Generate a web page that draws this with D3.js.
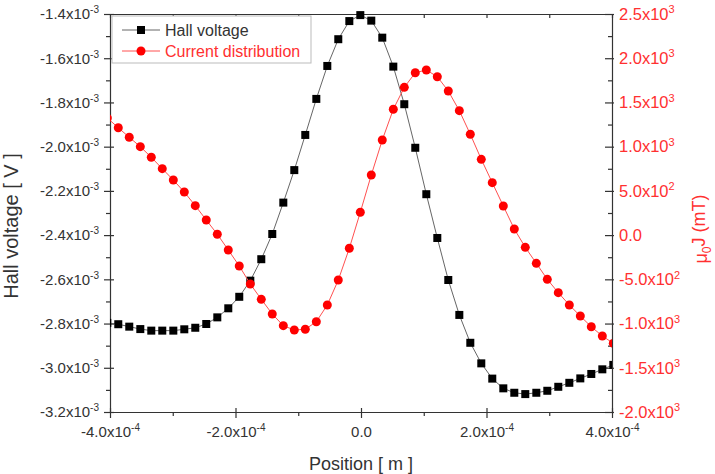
<!DOCTYPE html>
<html>
<head>
<meta charset="utf-8">
<script src="https://cdn.jsdelivr.net/npm/d3@7"></script>
<style>
  body { margin: 0; background: #fff; }
  svg { font-family: "Liberation Sans", Arial, sans-serif; }
</style>
</head>
<body>
<svg id="chart" width="715" height="474"></svg>
<script>
// Position along the sample [m]
const positions = [
  -4.043e-4, -3.868e-4, -3.693e-4, -3.517e-4, -3.342e-4, -3.167e-4, -2.991e-4, -2.816e-4,
  -2.641e-4, -2.466e-4, -2.290e-4, -2.115e-4, -1.940e-4, -1.764e-4, -1.589e-4, -1.414e-4,
  -1.238e-4, -1.063e-4, -0.888e-4, -0.712e-4, -0.537e-4, -0.362e-4, -0.186e-4, -0.011e-4,
  0.164e-4, 0.339e-4, 0.515e-4, 0.690e-4, 0.865e-4, 1.041e-4, 1.216e-4, 1.391e-4,
  1.567e-4, 1.742e-4, 1.917e-4, 2.092e-4, 2.268e-4, 2.443e-4, 2.618e-4, 2.794e-4,
  2.969e-4, 3.144e-4, 3.320e-4, 3.495e-4, 3.670e-4, 3.846e-4, 4.021e-4
];

// Hall voltage [V]
const hallVoltage = [
  -2.797e-3, -2.803e-3, -2.814e-3, -2.825e-3, -2.832e-3, -2.832e-3, -2.832e-3, -2.826e-3,
  -2.819e-3, -2.802e-3, -2.772e-3, -2.731e-3, -2.679e-3, -2.606e-3, -2.509e-3, -2.395e-3,
  -2.253e-3, -2.106e-3, -1.947e-3, -1.784e-3, -1.635e-3, -1.514e-3, -1.432e-3, -1.405e-3,
  -1.430e-3, -1.507e-3, -1.638e-3, -1.808e-3, -2.005e-3, -2.215e-3, -2.413e-3, -2.603e-3,
  -2.761e-3, -2.887e-3, -2.980e-3, -3.049e-3, -3.093e-3, -3.113e-3, -3.119e-3, -3.113e-3,
  -3.104e-3, -3.086e-3, -3.068e-3, -3.048e-3, -3.028e-3, -3.007e-3, -2.987e-3
];

// Current distribution mu0*J [mT]
const currentDist = [
  1324, 1214, 1106, 1000, 880, 751, 623, 487,
  333, 171, 10, -168, -349, -553, -726, -892,
  -1024, -1073, -1065, -979, -790, -508, -149, 258,
  680, 1075, 1423, 1671, 1836, 1867, 1791, 1629,
  1407, 1140, 857, 593, 329, 69, -138, -319,
  -500, -651, -790, -915, -1036, -1141, -1223
];

const xTicks = [-4e-4, -2e-4, 0, 2e-4, 4e-4];
const xTickLabels = ["-4.0x10^-4", "-2.0x10^-4", "0.0", "2.0x10^-4", "4.0x10^-4"];
const hallTicks = [-3.2e-3, -3.0e-3, -2.8e-3, -2.6e-3, -2.4e-3, -2.2e-3, -2.0e-3, -1.8e-3, -1.6e-3, -1.4e-3];
const hallTickLabels = ["-3.2x10^-3", "-3.0x10^-3", "-2.8x10^-3", "-2.6x10^-3", "-2.4x10^-3",
  "-2.2x10^-3", "-2.0x10^-3", "-1.8x10^-3", "-1.6x10^-3", "-1.4x10^-3"];
const jTicks = [-2000, -1500, -1000, -500, 0, 500, 1000, 1500, 2000, 2500];
const jTickLabels = ["-2.0x10^3", "-1.5x10^3", "-1.0x10^3", "-5.0x10^2", "0.0",
  "5.0x10^2", "1.0x10^3", "1.5x10^3", "2.0x10^3", "2.5x10^3"];

const seriesNames = ["Hall voltage", "Current distribution"];

const margin = { top: 14, right: 103, bottom: 62, left: 110 };
const width = 715 - margin.left - margin.right;
const height = 474 - margin.top - margin.bottom;
const axisColor = "#333";
const red = "#ff0000";
const redText = "#ff3030";

const svg = d3.select("#chart");
const g = svg.append("g").attr("transform", `translate(${margin.left},${margin.top})`);

const x = d3.scaleLinear().domain([-4e-4, 4e-4]).range([0, width]);
const yL = d3.scaleLinear().domain([-3.2e-3, -1.4e-3]).range([height, 0]);
const yR = d3.scaleLinear().domain([-2000, 2500]).range([height, 0]);

// midpoints for minor ticks
const mids = arr => arr.slice(1).map((v, i) => (v + arr[i]) / 2);

// put "a^b" labels into tick texts, with the exponent raised
function supLabels(sel, labels, supSize) {
  sel.selectAll(".tick text").each(function(d, i) {
    const parts = labels[i].split("^");
    const t = d3.select(this).text(null);
    t.append("tspan").text(parts[0]);
    if (parts[1]) t.append("tspan").attr("dy", "-0.6em").style("font-size", supSize + "px").text(parts[1]);
  });
}

function styleAxis(sel, color, size) {
  sel.select(".domain").attr("stroke", axisColor).attr("stroke-width", 1.2);
  sel.selectAll(".tick line").attr("stroke", axisColor).attr("stroke-width", 1.2);
  sel.selectAll(".tick text").attr("fill", color).style("font-size", (size || 15) + "px");
  sel.attr("font-family", null);
}

// bottom axis
const xAxisG = g.append("g")
  .attr("transform", `translate(0,${height})`)
  .call(d3.axisBottom(x).tickValues(xTicks).tickSize(6).tickSizeOuter(0).tickPadding(8));
styleAxis(xAxisG, axisColor);
xAxisG.selectAll(".tick line").attr("y1", -4);
supLabels(xAxisG, xTickLabels, 10);

g.append("g")
  .attr("transform", `translate(0,${height})`)
  .call(d3.axisBottom(x).tickValues(mids(xTicks)).tickSize(4).tickFormat(""))
  .call(s => s.select(".domain").remove())
  .selectAll("line").attr("stroke", axisColor).attr("stroke-width", 1.2);

// top axis, ticks inward only
g.append("g")
  .call(d3.axisBottom(x).tickValues(xTicks.concat(mids(xTicks))).tickSize(4).tickSizeOuter(0).tickFormat(""))
  .call(s => styleAxis(s, axisColor));

// left axis
const yLG = g.append("g")
  .call(d3.axisLeft(yL).tickValues(hallTicks).tickSize(6).tickSizeOuter(0).tickPadding(5));
styleAxis(yLG, axisColor);
yLG.selectAll(".tick line").attr("x1", 4);
supLabels(yLG, hallTickLabels, 10);

g.append("g")
  .call(d3.axisLeft(yL).tickValues(mids(hallTicks)).tickSize(4).tickFormat(""))
  .call(s => s.select(".domain").remove())
  .selectAll("line").attr("stroke", axisColor).attr("stroke-width", 1.2);

// right axis
const yRG = g.append("g")
  .attr("transform", `translate(${width},0)`)
  .call(d3.axisRight(yR).tickValues(jTicks).tickSize(2).tickSizeOuter(0).tickPadding(5));
styleAxis(yRG, redText, 16.5);
yRG.selectAll(".tick line").attr("x1", -7);
supLabels(yRG, jTickLabels, 11);

g.append("g")
  .attr("transform", `translate(${width},0)`)
  .call(d3.axisLeft(yR).tickValues(mids(jTicks)).tickSize(4).tickFormat(""))
  .call(s => s.select(".domain").remove())
  .selectAll("line").attr("stroke", axisColor).attr("stroke-width", 1.2);

// axis titles
g.append("text")
  .attr("transform", `translate(${-92},${height / 2 + 13}) rotate(-90)`)
  .attr("text-anchor", "middle")
  .style("font-size", "20px").attr("fill", axisColor)
  .text("Hall voltage [ V ]");

g.append("text")
  .attr("x", width / 2).attr("y", height + 58)
  .attr("text-anchor", "middle")
  .style("font-size", "18px").attr("fill", axisColor)
  .text("Position [ m ]");

const rt = g.append("text")
  .attr("transform", `translate(${width + 95},${height / 2 + 16}) rotate(-90)`)
  .attr("text-anchor", "middle")
  .style("font-size", "18px").attr("fill", redText);
rt.append("tspan").text("\u03bc");
rt.append("tspan").attr("dy", "0.3em").style("font-size", "12px").text("0");
rt.append("tspan").attr("dy", "-0.3em").text("J (mT)");

// data
svg.append("clipPath").attr("id", "plot-clip")
  .append("rect").attr("x", 0).attr("y", -10).attr("width", width).attr("height", height + 20);
const plot = g.append("g").attr("clip-path", "url(#plot-clip)");

const hallData = positions.map((p, i) => [p, hallVoltage[i]]);
const curData = positions.map((p, i) => [p, currentDist[i]]);

plot.append("path")
  .datum(hallData)
  .attr("fill", "none").attr("stroke", "#666").attr("stroke-width", 1)
  .attr("d", d3.line().x(d => x(d[0])).y(d => yL(d[1])));

plot.selectAll(".hall")
  .data(hallData)
  .enter().append("rect")
  .attr("class", "hall")
  .attr("x", d => x(d[0]) - 4).attr("y", d => yL(d[1]) - 4)
  .attr("width", 8).attr("height", 8)
  .attr("fill", "#000");

plot.append("path")
  .datum(curData)
  .attr("fill", "none").attr("stroke", "#ff5050").attr("stroke-width", 1)
  .attr("d", d3.line().x(d => x(d[0])).y(d => yR(d[1])));

plot.selectAll(".cur")
  .data(curData)
  .enter().append("circle")
  .attr("class", "cur")
  .attr("cx", d => x(d[0])).attr("cy", d => yR(d[1]))
  .attr("r", 4.5)
  .attr("fill", red);

// legend
const legend = g.append("g").attr("transform", "translate(2,2)");
legend.append("rect")
  .attr("width", 199).attr("height", 47)
  .attr("fill", "#fff").attr("stroke", "#bbb").attr("stroke-width", 1);

const rowY = [14, 35];
legend.append("line").attr("x1", 10).attr("x2", 48).attr("y1", rowY[0]).attr("y2", rowY[0])
  .attr("stroke", "#666");
legend.append("rect").attr("x", 25).attr("y", rowY[0] - 4).attr("width", 8).attr("height", 8)
  .attr("fill", "#000");
legend.append("line").attr("x1", 10).attr("x2", 48).attr("y1", rowY[1]).attr("y2", rowY[1])
  .attr("stroke", "#ff5050");
legend.append("circle").attr("cx", 29).attr("cy", rowY[1]).attr("r", 4.5).attr("fill", red);

legend.selectAll(".ltext")
  .data(seriesNames)
  .enter().append("text")
  .attr("x", 53).attr("y", (d, i) => rowY[i])
  .attr("dominant-baseline", "central")
  .style("font-size", "16px")
  .attr("fill", (d, i) => i === 0 ? axisColor : redText)
  .text(d => d);
</script>
</body>
</html>
